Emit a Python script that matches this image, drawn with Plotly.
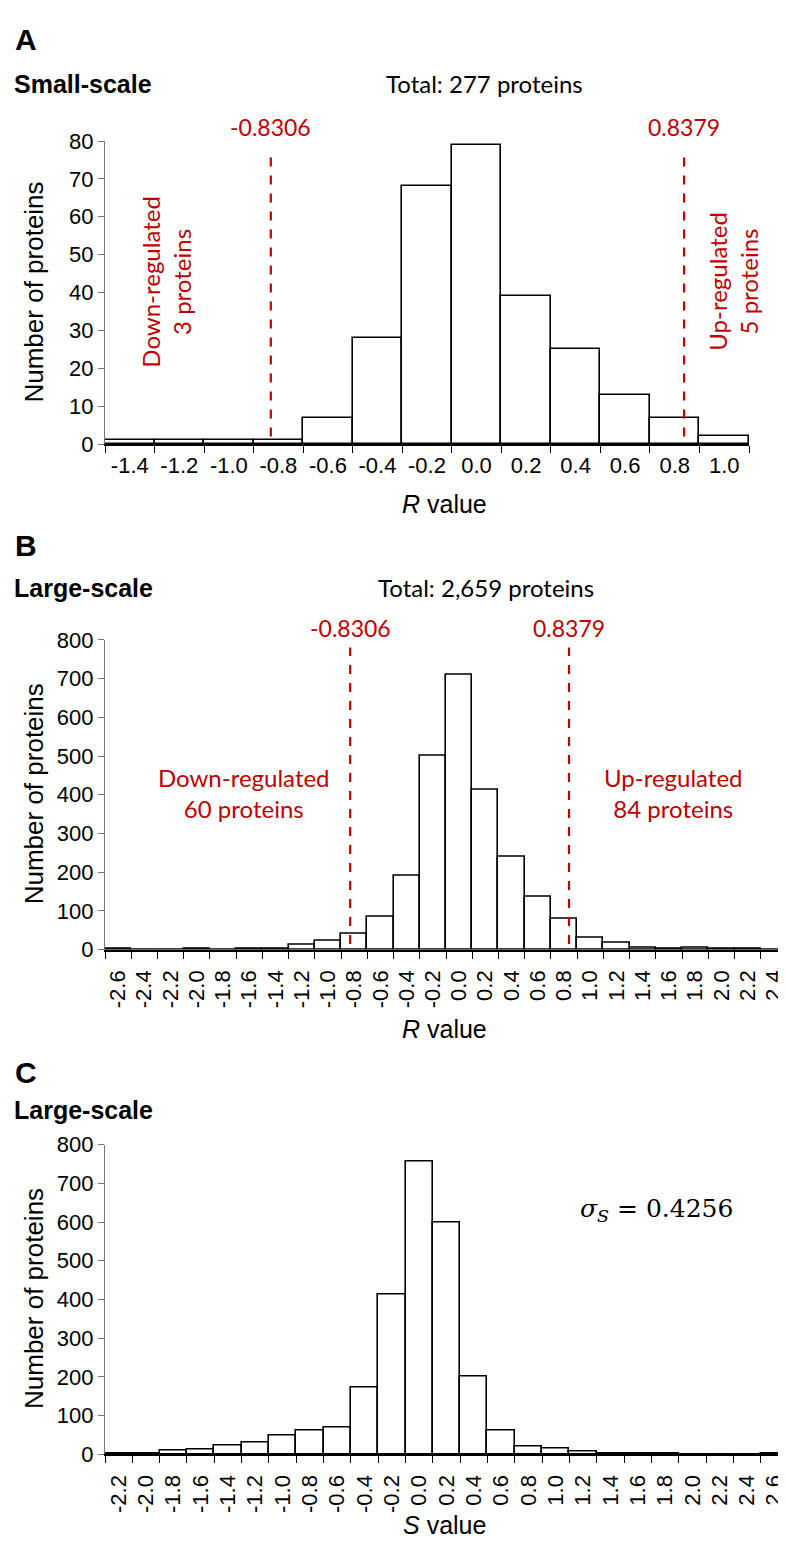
import plotly.graph_objects as go

# ---------------- data ----------------
labels_A = ["-1.4", "-1.2", "-1.0", "-0.8", "-0.6", "-0.4", "-0.2", "0.0", "0.2", "0.4", "0.6", "0.8", "1.0"]
counts_A = [1, 1, 1, 1, 7, 28, 68, 79, 39, 25, 13, 7, 2]

labels_B = ["-2.6", "-2.4", "-2.2", "-2.0", "-1.8", "-1.6", "-1.4", "-1.2", "-1.0", "-0.8", "-0.6", "-0.4", "-0.2",
            "0.0", "0.2", "0.4", "0.6", "0.8", "1.0", "1.2", "1.4", "1.6", "1.8", "2.0", "2.2", "2.4"]
counts_B = [2, 0, 1, 3, 0, 3, 3, 13, 22, 40, 85, 192, 500, 710, 413, 240, 137, 80, 30, 18, 5, 3, 5, 3, 2, 1]

labels_C = ["-2.2", "-2.0", "-1.8", "-1.6", "-1.4", "-1.2", "-1.0", "-0.8", "-0.6", "-0.4", "-0.2", "0.0",
            "0.2", "0.4", "0.6", "0.8", "1.0", "1.2", "1.4", "1.6", "1.8", "2.0", "2.2", "2.4", "2.6"]
counts_C = [2, 2, 10, 13, 22, 30, 50, 62, 70, 172, 412, 755, 598, 202, 63, 20, 16, 8, 3, 3, 2, 1, 1, 0, 2]

thresholds = [-0.8306, 0.8379]
bin_width = 0.2

# ---------------- figure ----------------
W, H = 786, 1548
RED = "#C00000"
SANS = "Liberation Sans, Arial"
TICKFONT = dict(family=SANS, size=22, color="black")
TXTFONT = "Lato, Carlito, Liberation Sans"


def px(x):
    return x / W


def py(y):
    return 1 - y / H


fig = go.Figure()

panels = [
    ("x", "y", labels_A, counts_A),
    ("x2", "y2", labels_B, counts_B),
    ("x3", "y3", labels_C, counts_C),
]
for xa, ya, labs, cnts in panels:
    fig.add_trace(go.Bar(
        x=[float(s) for s in labs], y=cnts, width=bin_width,
        xaxis=xa, yaxis=ya,
        marker=dict(color="white", line=dict(color="black", width=1.6)),
        showlegend=False, hoverinfo="x+y",
    ))


def xaxis_cfg(labs, domain, angle, standoff):
    centers = [float(s) for s in labs]
    edges = [c - bin_width / 2 for c in centers] + [centers[-1] + bin_width / 2]
    return dict(
        domain=domain,
        range=[edges[0], edges[-1]],
        tickmode="array", tickvals=centers, ticktext=labs,
        ticks="", tickangle=angle, tickfont=TICKFONT, ticklabelstandoff=standoff,
        showline=True, linecolor="black", linewidth=1.6,
        showgrid=False, zeroline=False, fixedrange=True,
        minor=dict(tickmode="array", tickvals=edges, ticks="outside",
                   ticklen=7, tickcolor="black", tickwidth=1.2, showgrid=False),
    )


def yaxis_cfg(domain, rng, dtick, anchor):
    return dict(
        domain=domain, range=rng, dtick=dtick, anchor=anchor,
        ticks="outside", ticklen=6, tickcolor="#777", tickwidth=1.2,
        showline=True, linecolor="#777", linewidth=1.2,
        showgrid=False, zeroline=False, tickfont=TICKFONT, fixedrange=True,
    )


fig.update_layout(
    width=W, height=H,
    margin=dict(l=0, r=0, t=0, b=0),
    paper_bgcolor="white", plot_bgcolor="white",
    bargap=0,
    xaxis=dict(xaxis_cfg(labels_A, [px(97), px(741)], 0, 1), anchor="y"),
    yaxis=yaxis_cfg([py(431), py(123)], [0, 80], 10, "x"),
    xaxis2=dict(xaxis_cfg(labels_B, [px(97), px(779)], -90, 10), anchor="y2"),
    yaxis2=yaxis_cfg([py(945), py(630)], [0, 800], 100, "x2"),
    xaxis3=dict(xaxis_cfg(labels_C, [px(97), px(780)], -90, 10), anchor="y3"),
    yaxis3=yaxis_cfg([py(1458), py(1143)], [0, 800], 100, "x3"),
)

# threshold lines (panels A and B)
for xr, yr, lo, hi in [("x", "y", 2, 78), ("x2", "y2", 15, 780)]:
    for t in thresholds:
        fig.add_shape(type="line", xref=xr, yref=yr, x0=t, x1=t, y0=lo, y1=hi,
                      line=dict(color=RED, width=2.2, dash="dash"))

ann = []


def text(x, y, s, size, color="black", family=TXTFONT, angle=0, xanchor="center", bold=False, xref="paper", yref="paper"):
    if bold:
        s = "<b>" + s + "</b>"
    ann.append(dict(x=x, y=y, xref=xref, yref=yref, text=s, showarrow=False,
                    xanchor=xanchor, yanchor="middle", textangle=angle,
                    font=dict(family=family, size=size, color=color)))


HEAD = "Liberation Sans, Arial"
# panel letters and headers
text(px(5), py(20), "A", 30, family=HEAD, xanchor="left", bold=True)
text(px(4), py(65), "Small-scale", 25, family=HEAD, xanchor="left", bold=True)
text(px(476), py(65), "Total: 277 proteins", 24)
text(px(5), py(534), "B", 30, family=HEAD, xanchor="left", bold=True)
text(px(4), py(577), "Large-scale", 25, family=HEAD, xanchor="left", bold=True)
text(px(478), py(577), "Total: 2,659 proteins", 24)
text(px(5), py(1070), "C", 30, family=HEAD, xanchor="left", bold=True)
text(px(4), py(1108), "Large-scale", 25, family=HEAD, xanchor="left", bold=True)

# threshold labels
for xr, yy in [("x", 109), ("x2", 618)]:
    for t in thresholds:
        text(t, py(yy), f"{t:.4f}", 23, color=RED, xref=xr)

# regulated annotations
text(px(158), py(266), "Down-regulated<br>3 proteins", 24, color=RED, angle=-90)
text(px(725), py(266), "Up-regulated<br>5 proteins", 24, color=RED, angle=-90)
text(px(236), py(786), "Down-regulated<br>60 proteins", 24, color=RED)
text(px(665), py(786), "Up-regulated<br>84 proteins", 24, color=RED)

# sigma
text(px(648), py(1210), "<i>σ</i><sub><i>S</i></sub> = 0.4256", 25, family="DejaVu Serif, Liberation Serif")

# axis titles
for yy in [277, 787, 1300]:
    text(px(26), py(yy), "Number of proteins", 26, family=SANS, angle=-90)
text(px(437), py(492), "<i>R</i> value", 25, family=SANS)
text(px(437), py(1026), "<i>R</i> value", 25, family=SANS)
text(px(437), py(1530), "<i>S</i> value", 25, family=SANS)

fig.update_layout(annotations=ann)

fig.write_html("out.html")
